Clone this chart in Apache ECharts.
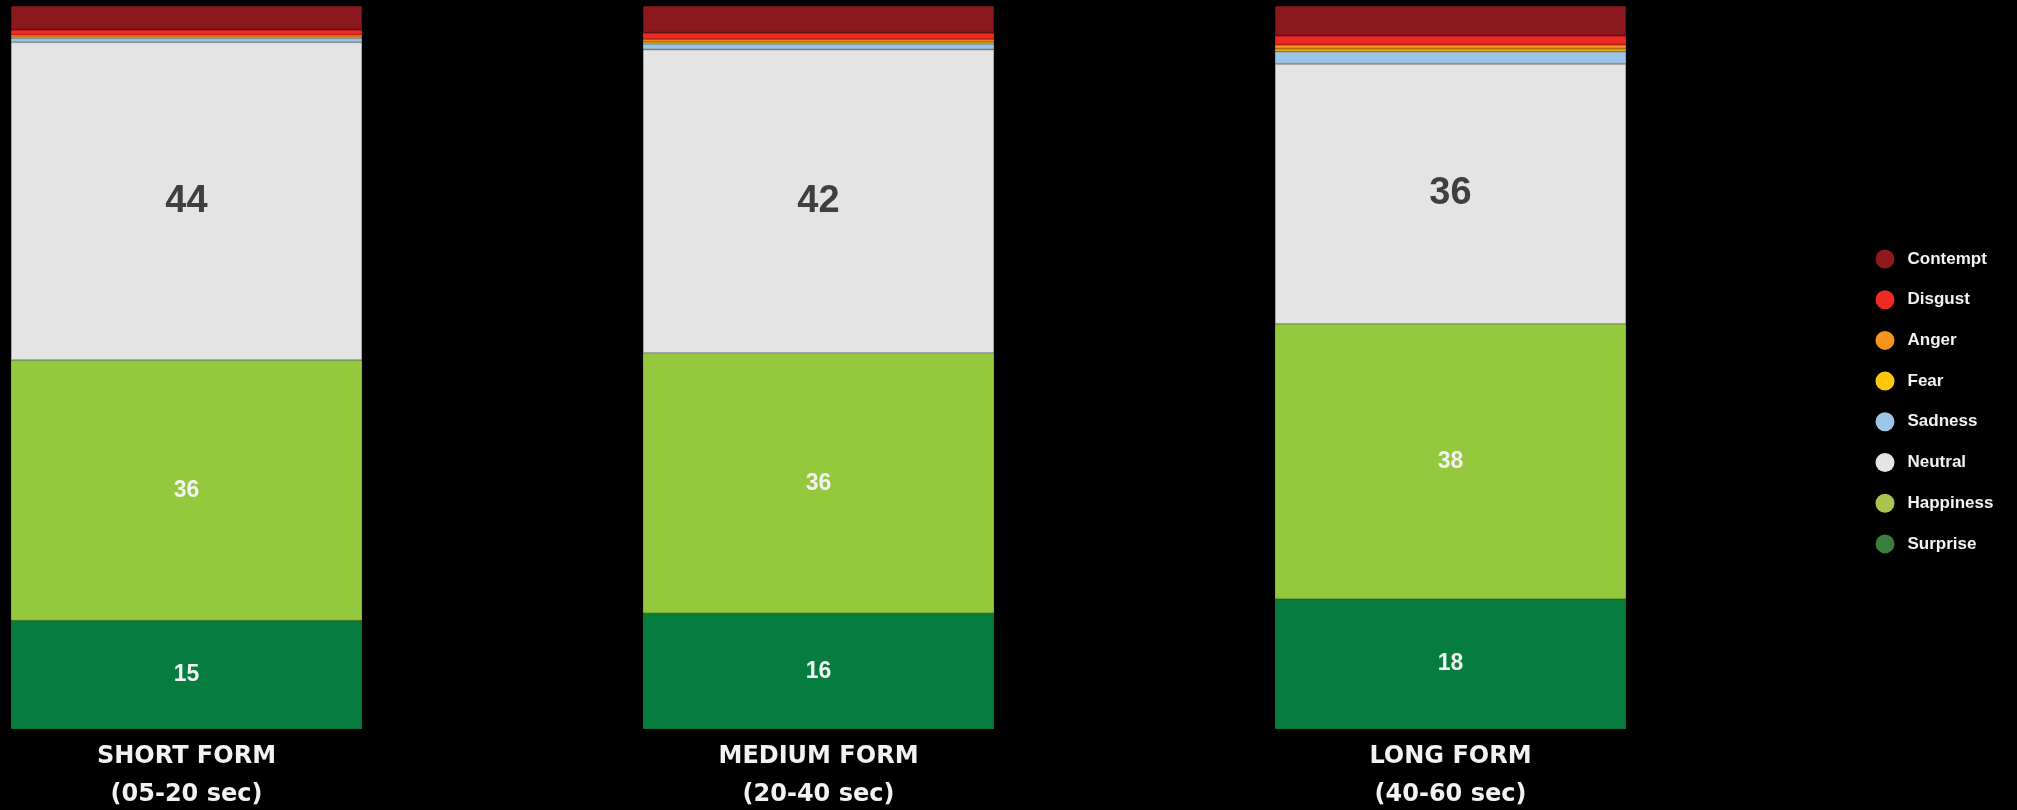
<!DOCTYPE html>
<html>
<head>
<meta charset="utf-8">
<title>Emotion mix by video length</title>
<script src="https://cdn.jsdelivr.net/npm/echarts@6/dist/echarts.min.js"></script>
<style>
  html, body { margin: 0; padding: 0; background: #000; }
  #chart { width: 2017px; height: 810px; }
</style>
</head>
<body>
<div id="chart"></div>
<script>
// Video length groups (x axis)
const categories = ['SHORT FORM\n(05-20 sec)', 'MEDIUM FORM\n(20-40 sec)', 'LONG FORM\n(40-60 sec)'];

// Share of each detected emotion, in percent, per length group
const surprise  = [15, 16, 18];
const happiness = [36, 36, 38];
const neutral   = [44, 42, 36];
const sadness   = [0.55, 0.75, 1.7];
const fear      = [0.15, 0.3, 0.4];
const anger     = [0.3, 0.35, 0.55];
const disgust   = [0.7, 0.9, 1.25];
const contempt  = [3.3, 3.7, 4.1];

// Legend order (top to bottom)
const legendOrder = ['Contempt', 'Disgust', 'Anger', 'Fear', 'Sadness', 'Neutral', 'Happiness', 'Surprise'];

// Stack order from the bottom of each bar upwards
const stackDefs = [
  { name: 'Surprise',  data: surprise,  color: '#067d3e', border: '#05703a', legend: '#3a7d3c', label: 'light' },
  { name: 'Happiness', data: happiness, color: '#94c83d', border: '#86b838', legend: '#a9c44e', label: 'light' },
  { name: 'Neutral',   data: neutral,   color: '#e4e4e4', border: '#a8a8a8', legend: '#e4e4e4', label: 'dark' },
  { name: 'Sadness',   data: sadness,   color: '#9dc5e8', border: '#8aa4bd', legend: '#9dc5e8' },
  { name: 'Fear',      data: fear,      color: '#ffc60b', border: '#c99a10', legend: '#ffc60b' },
  { name: 'Anger',     data: anger,     color: '#f7941d', border: '#d27a18', legend: '#f7941d' },
  { name: 'Disgust',   data: disgust,   color: '#ee2a24', border: '#c8221e', legend: '#ee2a24' },
  { name: 'Contempt',  data: contempt,  color: '#8b181c', border: '#661114', legend: '#8f1a1e' }
];

const labelStyles = {
  light: { color: '#f2f2f2', fontSize: 23, fontWeight: 'bold', fontFamily: 'Liberation Sans, Arial, sans-serif' },
  dark:  { color: '#3f3f3f', fontSize: 38, fontWeight: 'bold', fontFamily: 'Liberation Sans, Arial, sans-serif' }
};

const series = stackDefs.map(d => ({
  name: d.name,
  type: 'bar',
  stack: 'total',
  barWidth: 351,
  clip: false,
  data: d.data,
  itemStyle: { color: d.color, borderColor: d.border, borderWidth: 1 },
  label: d.label ? Object.assign({ show: true, position: 'inside', formatter: '{c}' }, labelStyles[d.label]) : { show: false },
  emphasis: { disabled: true }
}));

const colorByName = {};
stackDefs.forEach(d => { colorByName[d.name] = d.legend; });

const chart = echarts.init(document.getElementById('chart'), null, { renderer: 'canvas' });
chart.setOption({
  backgroundColor: '#000000',
  animation: false,
  // categories sit on the grid edges (boundaryGap off), so the grid spans first to last bar centre
  grid: { left: 186.5, top: 6, width: 1264, height: 723, containLabel: false, outerBoundsMode: 'none' },
  xAxis: {
    type: 'category',
    data: categories,
    boundaryGap: false,
    axisLine: { show: false },
    axisTick: { show: false },
    splitLine: { show: false },
    axisLabel: {
      color: '#f2f2f2',
      fontSize: 24,
      fontWeight: 'bold',
      fontFamily: 'DejaVu Sans, Liberation Sans, Arial, sans-serif',
      lineHeight: 38,
      margin: 9,
      interval: 0
    }
  },
  yAxis: { type: 'value', min: 0, max: 100, show: false, splitLine: { show: false } },
  legend: {
    orient: 'vertical',
    left: 1870.5,
    top: 244.5,
    itemWidth: 19,
    itemHeight: 19,
    itemGap: 21.7,
    icon: 'circle',
    selectedMode: false,
    data: legendOrder.map(n => ({ name: n, itemStyle: { color: colorByName[n], borderWidth: 0 } })),
    textStyle: {
      color: '#f2f2f2',
      fontSize: 17,
      fontWeight: 'bold',
      fontFamily: 'Liberation Sans, Arial, sans-serif',
      padding: [0, 0, 0, 8]
    }
  },
  series: series
});
</script>
</body>
</html>
